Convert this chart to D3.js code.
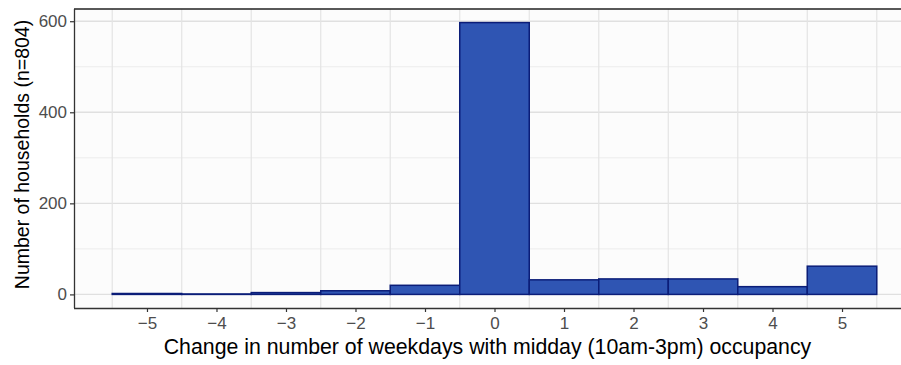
<!DOCTYPE html>
<html>
<head>
<meta charset="utf-8">
<script src="https://cdn.jsdelivr.net/npm/d3@7/dist/d3.min.js"></script>
<style>
  html, body { margin: 0; padding: 0; background: #ffffff; }
  svg { display: block; }
  text { font-family: "Liberation Sans", Arial, Helvetica, sans-serif; }
</style>
</head>
<body>
<svg id="chart" width="901" height="365"></svg>
<script>
// Change in weekdays with midday occupancy: household counts per bin
const changeValues = [-5, -4, -3, -2, -1, 0, 1, 2, 3, 4, 5];
const householdCounts = [2, 1, 4, 8, 20, 597, 32, 34, 34, 17, 62];
const yMajorTicks = [0, 200, 400, 600];
const yMinorTicks = [100, 300, 500];
const xTickLabels = ["\u22125", "\u22124", "\u22123", "\u22122", "\u22121", "0", "1", "2", "3", "4", "5"];
const xTitle = "Change in number of weekdays with midday (10am-3pm) occupancy";
const yTitle = "Number of households (n=804)";

const svg = d3.select("#chart");
const panel = { left: 74, right: 915, top: 9, bottom: 308 };

const binWidth = 1;
const xMin = d3.min(changeValues) - binWidth / 2;
const xMax = d3.max(changeValues) + binWidth / 2;
const xPad = (xMax - xMin) * 0.05;
const x = d3.scaleLinear().domain([xMin - xPad, xMax + xPad]).range([panel.left, panel.right]);

const yMax = d3.max(householdCounts);
const yPad = yMax * 0.05;
const y = d3.scaleLinear().domain([-yPad, yMax + yPad]).range([panel.bottom, panel.top]);

// panel background
svg.append("rect")
  .attr("x", panel.left).attr("y", panel.top)
  .attr("width", panel.right - panel.left).attr("height", panel.bottom - panel.top)
  .attr("fill", "#fcfcfc");

const grid = svg.append("g");
// minor horizontal grid
grid.selectAll("line.ymin").data(yMinorTicks).join("line")
  .attr("x1", panel.left).attr("x2", panel.right)
  .attr("y1", d => y(d)).attr("y2", d => y(d))
  .attr("stroke", "#ececec").attr("stroke-width", 1);
// major horizontal grid
grid.selectAll("line.ymaj").data(yMajorTicks).join("line")
  .attr("x1", panel.left).attr("x2", panel.right)
  .attr("y1", d => y(d)).attr("y2", d => y(d))
  .attr("stroke", "#e0e0e0").attr("stroke-width", 1.4);
// vertical grid at bin edges
const binEdges = changeValues.map(v => v - binWidth / 2).concat([d3.max(changeValues) + binWidth / 2]);
grid.selectAll("line.xg").data(binEdges).join("line")
  .attr("x1", d => x(d)).attr("x2", d => x(d))
  .attr("y1", panel.top).attr("y2", panel.bottom)
  .attr("stroke", "#e4e4e4").attr("stroke-width", 1.2);

// bars
svg.append("g").selectAll("rect").data(changeValues).join("rect")
  .attr("x", d => x(d - binWidth / 2))
  .attr("width", d => x(d + binWidth / 2) - x(d - binWidth / 2))
  .attr("y", (d, i) => y(householdCounts[i]))
  .attr("height", (d, i) => y(0) - y(householdCounts[i]))
  .attr("fill", "#2f55b3")
  .attr("stroke", "#0b1d78")
  .attr("stroke-width", 1.5);

// panel border along the top
svg.append("line")
  .attr("x1", panel.left).attr("x2", panel.right)
  .attr("y1", panel.top).attr("y2", panel.top)
  .attr("stroke", "#222").attr("stroke-width", 1.4);

// y axis
const yAxis = d3.axisLeft(y).tickValues(yMajorTicks).tickSize(4).tickPadding(3).tickFormat(d3.format("d"));
const gy = svg.append("g").attr("transform", `translate(${panel.left},0)`).call(yAxis);
gy.select(".domain").attr("d", `M0.5,${panel.top}V${panel.bottom}`).attr("stroke", "#333").attr("stroke-width", 1.3);
gy.selectAll(".tick line").attr("stroke", "#333").attr("stroke-width", 1.2);
gy.selectAll(".tick text").attr("font-size", 17).attr("fill", "#4d4d4d")
  .attr("font-family", "'Liberation Sans', Arial, sans-serif");

// x axis
const xAxis = d3.axisBottom(x).tickValues(changeValues).tickSize(4).tickPadding(5)
  .tickFormat((d, i) => xTickLabels[i]);
const gx = svg.append("g").attr("transform", `translate(0,${panel.bottom})`).call(xAxis);
gx.select(".domain").attr("d", `M${panel.left},0.5H${panel.right}`).attr("stroke", "#333").attr("stroke-width", 1.3);
gx.selectAll(".tick line").attr("stroke", "#333").attr("stroke-width", 1.2);
gx.selectAll(".tick text").attr("font-size", 17).attr("fill", "#4d4d4d")
  .attr("font-family", "'Liberation Sans', Arial, sans-serif");

// titles
svg.append("text")
  .attr("x", 487.5)
  .attr("y", 354)
  .attr("text-anchor", "middle")
  .attr("font-size", 21.3)
  .attr("fill", "#000")
  .text(xTitle);

svg.append("text")
  .attr("transform", `translate(29,154.5) rotate(-90)`)
  .attr("text-anchor", "middle")
  .attr("font-size", 19.5)
  .attr("fill", "#000")
  .text(yTitle);
</script>
</body>
</html>
